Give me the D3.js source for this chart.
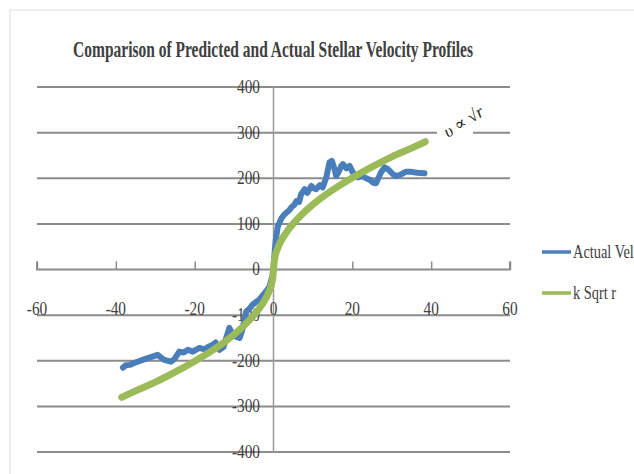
<!DOCTYPE html>
<html>
<head>
<meta charset="utf-8">
<script src="https://cdn.jsdelivr.net/npm/d3@7"></script>
<style>
  body { margin: 0; background: #fff; }
  svg { display: block; }
  text { font-family: "Liberation Serif", "DejaVu Serif", serif; fill: #404040; }
</style>
</head>
<body>
<div id="chart"></div>
<script>
// Chart data
const actualR = [-38.2, -37.5, -36.5, -35, -33.2, -31.5, -29.4, -28.5, -27.7, -26, -25, -23.9, -22.8, -21.7, -20.5,
  -18.8, -17.5, -16.2, -15.4, -14.7, -13.7, -12.7, -12, -11.2, -10.2, -8.6, -8, -6.9, -6, -5.3, -3.6, -1.9, -1, -0.3, 0,
  0.3, 0.6, 1.1, 2, 2.8, 4, 4.5, 5.3, 5.8, 6.5, 7, 7.9, 8.6, 9.6, 10.2, 10.8, 11.8, 12.5, 13.4, 14.2, 14.8, 15.5, 15.9,
  16.6, 17.2, 17.6, 18.5, 19.3, 20.1, 21.4, 22.5, 23.5, 24.5, 25.3, 26, 27.3, 28.2, 29, 30.3, 31, 32, 33.5, 35, 36.5, 38.3];
const actualV = [-215, -210, -209, -204, -198, -193, -187, -193, -198, -202, -195, -180, -182, -176, -180,
  -172, -175, -168, -165, -160, -176, -170, -150, -128, -145, -150, -135, -92, -85, -77, -66, -48, -37, -15, 0,
  40, 66, 95, 112, 121, 130, 136, 142, 150, 148, 165, 176, 168, 183, 178, 176, 185, 180, 202, 235, 238, 220, 205,
  215, 227, 231, 222, 227, 213, 202, 205, 200, 196, 190, 189, 213, 224, 220, 209, 205, 207, 214, 214, 212, 211];

const modelR = [-38.5, -35, -30, -25, -20, -16, -12, -9, -6, -4, -2, -1, -0.25, 0, 0.25, 1, 2, 4, 6, 9, 12, 16, 20, 25, 30, 35, 38.5];
const modelV = [-280, -266, -247, -225, -201, -180, -156, -135, -110, -90, -64, -45, -22, 0, 22, 45, 64, 90, 110, 135, 156, 180, 201, 225, 247, 266, 280];

const xTicks = [-60, -40, -20, 0, 20, 40, 60];
const yTicks = [-400, -300, -200, -100, 0, 100, 200, 300, 400];
const seriesNames = ["Actual Velocity", "k Sqrt r"];
const seriesColors = ["#4a7ebb", "#9bbb59"];

const width = 634, height = 474;

const svg = d3.select("#chart")
    .append("svg")
    .attr("width", width)
    .attr("height", height);

// Outer chart border
svg.append("rect")
    .attr("x", 10).attr("y", 10)
    .attr("width", 700).attr("height", 500)
    .attr("fill", "none")
    .attr("stroke", "#e0e0e0");

const x = d3.scaleLinear().domain([-60, 60]).range([37, 510]);
const y = d3.scaleLinear().domain([-400, 400]).range([452, 87]);

// Title, squeezed horizontally to the reference's width
const title = svg.append("text")
    .attr("x", 0).attr("y", 0)
    .attr("text-anchor", "middle")
    .style("font-size", "23px")
    .style("font-weight", "bold")
    .text("Comparison of Predicted and Actual Stellar Velocity Profiles");
const titleW = title.node().getComputedTextLength();
title.attr("transform", `translate(273,57) scale(${400 / titleW},1)`);

// Horizontal gridlines
svg.append("g")
    .selectAll("line")
    .data(yTicks.filter(d => d !== 0))
    .enter()
    .append("line")
    .attr("x1", x(-60)).attr("x2", x(60))
    .attr("y1", d => y(d)).attr("y2", d => y(d))
    .attr("stroke", "#8c8c8c")
    .attr("stroke-width", 2);

// Mask behind the annotation
svg.append("rect")
    .attr("x", 437).attr("y", 126)
    .attr("width", 36).attr("height", 14)
    .attr("fill", "#fff");

// Y axis (vertical line at x = 0)
svg.append("line")
    .attr("x1", x(0)).attr("x2", x(0))
    .attr("y1", y(400)).attr("y2", y(-400))
    .attr("stroke", "#9a9a9a")
    .attr("stroke-width", 1.5);

// X axis line with upward ticks
const xAxis = d3.axisTop(x)
    .tickValues(xTicks)
    .tickSize(8)
    .tickFormat("");
const gx = svg.append("g")
    .attr("transform", `translate(0,${y(0)})`)
    .call(xAxis);
gx.select(".domain").attr("stroke", "#8c8c8c").attr("stroke-width", 2)
    .attr("d", `M${x(-60)},-8V0H${x(60)}V-8`);
gx.selectAll(".tick line").attr("stroke", "#8c8c8c").attr("stroke-width", 1.5);

// X tick labels
svg.append("g")
    .selectAll("text")
    .data(xTicks)
    .enter()
    .append("text")
    .attr("x", d => x(d))
    .attr("y", 315)
    .attr("text-anchor", "middle")
    .attr("transform", d => `translate(${x(d)},0) scale(0.85,1) translate(${-x(d)},0)`)
    .style("font-size", "18px")
    .text(d => d);

// Y tick labels
svg.append("g")
    .selectAll("text")
    .data(yTicks)
    .enter()
    .append("text")
    .attr("x", 260)
    .attr("y", d => y(d) + 6)
    .attr("text-anchor", "end")
    .attr("transform", "translate(260,0) scale(0.85,1) translate(-260,0)")
    .style("font-size", "18px")
    .text(d => d);

// Series lines
const actual = actualR.map((r, i) => ({ r, v: actualV[i] }));
const model = modelR.map((r, i) => ({ r, v: modelV[i] }));

const lineLinear = d3.line().x(d => x(d.r)).y(d => y(d.v));
const lineSmooth = d3.line().x(d => x(d.r)).y(d => y(d.v)).curve(d3.curveMonotoneX);

svg.append("path")
    .datum(actual)
    .attr("d", lineLinear)
    .attr("fill", "none")
    .attr("stroke", seriesColors[0])
    .attr("stroke-width", 6)
    .attr("stroke-linejoin", "round")
    .attr("stroke-linecap", "round");

svg.append("path")
    .datum(model)
    .attr("d", lineSmooth)
    .attr("fill", "none")
    .attr("stroke", seriesColors[1])
    .attr("stroke-width", 7)
    .attr("stroke-linecap", "round");

// Annotation v ∝ √r
svg.append("text")
    .attr("transform", "translate(448,138) rotate(-32)")
    .style("font-size", "17px")
    .style("font-style", "italic")
    .style("fill", "#222")
    .text("υ ∝ √r");

// Legend (the long name runs off the right edge, as in the reference)
const legend = svg.append("g")
    .selectAll("g")
    .data(seriesNames)
    .enter()
    .append("g")
    .attr("transform", (d, i) => `translate(542,${252 + i * 41})`);

legend.append("line")
    .attr("x1", 0).attr("x2", 29)
    .attr("stroke", (d, i) => seriesColors[i])
    .attr("stroke-width", 3.5);

legend.append("text")
    .attr("x", 31)
    .attr("y", 6)
    .attr("transform", "translate(31,0) scale(0.8,1) translate(-31,0)")
    .style("font-size", "18px")
    .text(d => d);
</script>
</body>
</html>
